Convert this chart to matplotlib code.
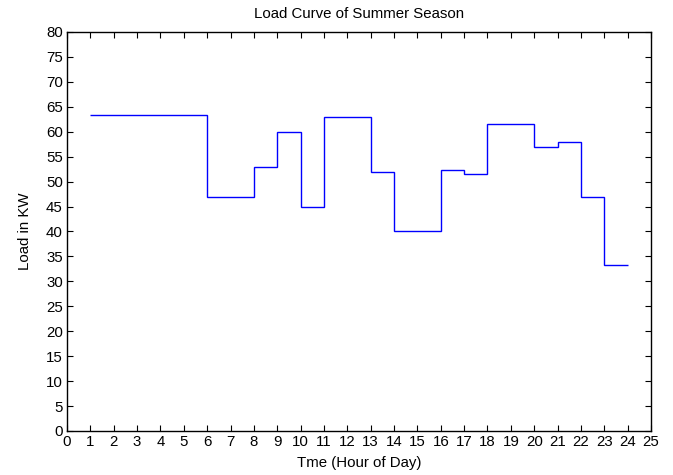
import matplotlib
matplotlib.use("Agg")
import matplotlib.pyplot as plt
import numpy as np

# Data
hours = list(range(1, 25))  # step edges, hour 1..24
load_kw = [63.3, 63.3, 63.3, 63.3, 63.3, 47.0, 47.0, 53.0, 60.0, 45.0,
           63.0, 63.0, 52.0, 40.0, 40.0, 52.3, 51.5, 61.5, 61.5, 57.0,
           58.0, 47.0, 33.3]
x_ticks = list(range(0, 26))
y_ticks = list(range(0, 81, 5))

plt.rcParams['font.family'] = ['Liberation Sans', 'DejaVu Sans']

fig = plt.figure(figsize=(6.73, 4.75), dpi=100)
ax = fig.add_axes([67/673, 1 - 431/475, (651 - 67)/673, (431 - 32)/475])

ax.stairs(load_kw, hours, color='#0000ff', linewidth=1.0, baseline=None)

ax.set_xlim(0, 25)
ax.set_ylim(0, 80)
ax.set_xticks(x_ticks)
ax.set_yticks(y_ticks)
ax.tick_params(direction='in', length=4, width=0.8, top=True, right=True,
               labelsize=10.8, pad=3, colors='black')
for s in ax.spines.values():
    s.set_linewidth(1.0)
    s.set_color('black')

ax.set_title('Load Curve of Summer Season', fontsize=10.8, pad=10)
ax.set_xlabel('Tme (Hour of Day)', fontsize=10.8, labelpad=5)
ax.set_ylabel('Load in KW', fontsize=10.8, labelpad=10)

fig.savefig('out.png', dpi=100)
